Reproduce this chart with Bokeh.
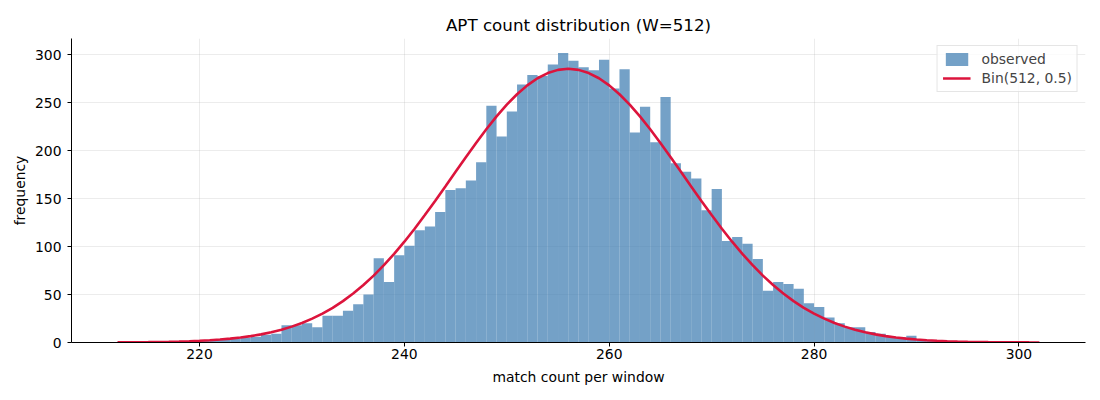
import math
from bokeh.plotting import figure
from bokeh.models import Range1d, FixedTicker, Legend, LegendItem, Title
from bokeh.embed import file_html
from bokeh.resources import INLINE

# ---- data ----
bin_left = list(range(212, 302))
counts = [
    1, 0, 0, 1, 1, 1, 1, 2,            # 212-219
    2, 3, 3, 4, 5, 6, 8, 9,            # 220-227
    18, 18, 20, 16, 28, 28, 33, 40,    # 228-235
    50, 88, 63, 91,                    # 236-239
    101, 117, 121, 136, 159, 161, 169, 188, 247, 215,  # 240-249
    241, 269, 279, 278, 290, 302, 294, 287, 284, 295,  # 250-259
    265, 285, 219, 246, 209, 256, 187, 178, 171, 138,  # 260-269
    160, 106, 110, 103, 87, 54, 63, 61, 56, 41,        # 270-279
    37, 26, 20, 16, 16, 11, 9, 6, 5, 7,                # 280-289
    3, 2, 2, 1, 1, 1, 0, 1, 0, 0, 0, 0,               # 290-301
]
bin_right = [b + 1 for b in bin_left]

n_trials = 512
p_success = 0.5
n_windows = 8100
curve_x = list(range(212, 303))
curve_y = [n_windows * math.comb(n_trials, k) * p_success**k * (1 - p_success)**(n_trials - k)
           for k in curve_x]

x_ticks = [220, 240, 260, 280, 300]
y_ticks = [0, 50, 100, 150, 200, 250, 300]

FONT = "DejaVu Sans"

p = figure(width=1100, height=400, output_backend="svg", toolbar_location=None,
           x_range=Range1d(207.5, 306.5), y_range=Range1d(0, 317.1),
           min_border_left=71, min_border_right=15, min_border_top=38, min_border_bottom=58)
p.title = None
p.add_layout(Title(text="APT count distribution (W=512)", align="center",
                   text_font=FONT, text_font_size="16.7px", text_font_style="normal",
                   text_color="black", standoff=7), "above")

p.outline_line_color = None
p.background_fill_color = "white"
p.border_fill_color = "white"

for g in (p.xgrid, p.ygrid):
    g.grid_line_color = "#b0b0b0"
    g.grid_line_alpha = 0.3
    g.grid_line_width = 0.8
p.xgrid.ticker = FixedTicker(ticks=x_ticks)
p.ygrid.ticker = FixedTicker(ticks=y_ticks)

bars = p.quad(left=bin_left, right=bin_right, top=counts, bottom=0,
              fill_color="steelblue", fill_alpha=0.75, line_color=None)
line = p.line(curve_x, curve_y, line_color="crimson", line_width=2.6)

for ax, ticks in ((p.xaxis, x_ticks), (p.yaxis, y_ticks)):
    ax.ticker = FixedTicker(ticks=ticks)
    ax.major_tick_out = 4
    ax.major_tick_in = 0
    ax.minor_tick_line_color = None
    ax.axis_line_color = "black"
    ax.axis_line_width = 1
    ax.major_tick_line_color = "black"
    ax.major_label_text_font = FONT
    ax.major_label_text_font_size = "13.9px"
    ax.major_label_text_color = "black"
    ax.axis_label_text_font = FONT
    ax.axis_label_text_font_size = "13.9px"
    ax.axis_label_text_font_style = "normal"
    ax.axis_label_text_color = "black"
p.xaxis.major_label_standoff = 2
p.yaxis.major_label_standoff = 6
p.xaxis.axis_label = "match count per window"
p.yaxis.axis_label = "frequency"
p.xaxis.axis_label_standoff = 7
p.yaxis.axis_label_standoff = 4

legend = Legend(items=[LegendItem(label="observed", renderers=[bars]),
                       LegendItem(label="Bin(512, 0.5)", renderers=[line])],
                location="top_right", margin=7, padding=5, spacing=3,
                glyph_width=28, glyph_height=16, label_standoff=11,
                label_text_font=FONT, label_text_font_size="13.9px",
                border_line_color="#cccccc", border_line_width=1,
                background_fill_alpha=0.8)
p.add_layout(legend)

open("out.html", "w").write(file_html(p, INLINE))
